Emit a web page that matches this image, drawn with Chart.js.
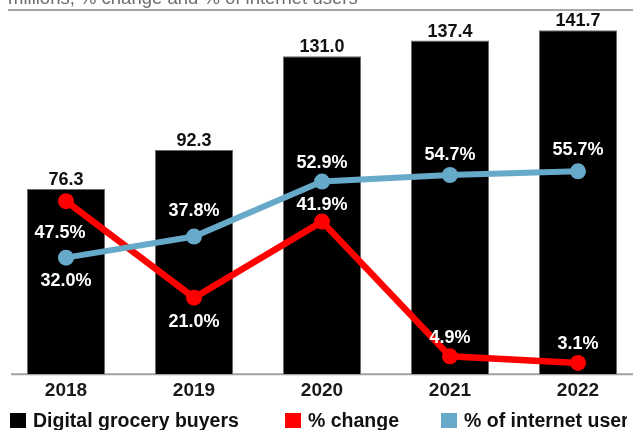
<!DOCTYPE html>
<html>
<head>
<meta charset="utf-8">
<script src="https://cdn.jsdelivr.net/npm/chart.js@4/dist/chart.umd.min.js"></script>
<style>
  html, body { margin:0; padding:0; background:#fff; width:633px; height:430px; overflow:hidden; }
  #wrap { position:relative; width:633px; height:430px; overflow:hidden; }
  #chart { position:absolute; left:-6px; top:0; }
  #subtitle { position:absolute; left:8px; top:-11px; font:18.5px "Liberation Sans", Arial, sans-serif; line-height:18px; color:#6e6e6e; white-space:nowrap; }
  #rule { position:absolute; left:8px; top:9px; width:640px; height:2px; background:#a6a6a6; }
  .lg { position:absolute; top:409px; height:22px; display:flex; align-items:center; white-space:nowrap; overflow:hidden;
        font:bold 19.5px "Liberation Sans", Arial, sans-serif; color:#111; }
  .lg i { display:inline-block; flex:none; width:16px; height:15px; margin-right:7px; }
</style>
</head>
<body>
<div id="wrap">
  <canvas id="chart" width="656" height="430"></canvas>
  <div id="subtitle">millions, % change and % of internet users</div>
  <div id="rule"></div>
  <div id="legend"></div>
</div>
<script>
// ---- data ----
const categories = ['2018', '2019', '2020', '2021', '2022'];
const buyers = [76.3, 92.3, 131.0, 137.4, 141.7];          // millions
const pctChange = [47.5, 21.0, 41.9, 4.9, 3.1];             // % change
const pctInternet = [32.0, 37.8, 52.9, 54.7, 55.7];         // % of internet users
const seriesNames = ['Digital grocery buyers', '% change', '% of internet users'];

const BLACK = '#000000', RED = '#ff0000', BLUE = '#67a9c9';
const FONT = '"Liberation Sans", Arial, sans-serif';

// label vertical offsets (label centre relative to point)
const labelOffsets = {
  1: [32, 24, -17, -18, -19],
  2: [23, -26, -19, -20, -21]
};

const labelsPlugin = {
  id: 'valueLabels',
  afterDatasetsDraw(chart) {
    const ctx = chart.ctx;
    ctx.save();
    ctx.textAlign = 'center';
    const barMeta = chart.getDatasetMeta(0);
    ctx.font = 'bold 18px ' + FONT;
    ctx.fillStyle = '#111';
    ctx.textBaseline = 'alphabetic';
    barMeta.data.forEach((el, i) => {
      ctx.fillText(buyers[i].toFixed(1), el.x, el.y - 4);
    });
    ctx.fillStyle = '#ffffff';
    ctx.textBaseline = 'middle';
    [1, 2].forEach(di => {
      const meta = chart.getDatasetMeta(di);
      const vals = chart.data.datasets[di].data;
      meta.data.forEach((el, i) => {
        const dx = (di === 1 && i === 0) ? -6 : 0;
        ctx.fillText(vals[i].toFixed(1) + '%', el.x + dx, el.y + labelOffsets[di][i]);
      });
    });
    ctx.restore();
  }
};

const baselinePlugin = {
  id: 'baseline',
  beforeDatasetsDraw(chart) {
    const ctx = chart.ctx;
    const y = chart.scales.y.getPixelForValue(0);
    ctx.save();
    ctx.strokeStyle = '#a0a0a0';
    ctx.lineWidth = 2;
    ctx.beginPath();
    ctx.moveTo(17, y);
    ctx.lineTo(chart.width, y);
    ctx.stroke();
    ctx.restore();
  }
};

new Chart(document.getElementById('chart'), {
  data: {
    labels: categories,
    datasets: [
      {
        type: 'bar', label: seriesNames[0], data: buyers, yAxisID: 'y',
        backgroundColor: BLACK, borderColor: '#6a6a6a', borderWidth: 1,
        barPercentage: 0.61, categoryPercentage: 1.0, order: 3
      },
      {
        type: 'line', label: seriesNames[1], data: pctChange, yAxisID: 'y2',
        borderColor: RED, backgroundColor: RED, borderWidth: 6.5,
        pointRadius: 8, pointBackgroundColor: RED, pointBorderWidth: 0,
        tension: 0, order: 2
      },
      {
        type: 'line', label: seriesNames[2], data: pctInternet, yAxisID: 'y2',
        borderColor: BLUE, backgroundColor: BLUE, borderWidth: 6,
        pointRadius: 8, pointBackgroundColor: BLUE, pointBorderWidth: 0,
        tension: 0, order: 1
      }
    ]
  },
  options: {
    responsive: false,
    animation: false,
    layout: { padding: { left: 2, right: 2, top: 10, bottom: 23 } },
    plugins: { legend: { display: false }, tooltip: { enabled: false } },
    scales: {
      x: {
        type: 'category', offset: true,
        grid: { display: false, drawTicks: false },
        border: { display: false },
        ticks: { color: '#1a1a1a', padding: 5, font: { family: FONT, size: 19, weight: 'bold' } },
        afterFit(scale) { scale.paddingLeft = 0; scale.paddingRight = 0; }
      },
      y: { display: false, min: 0, max: 150 },
      y2: { display: false, min: 0, max: 100, position: 'right' }
    }
  },
  plugins: [baselinePlugin, labelsPlugin]
});

// HTML legend
const legendColors = [BLACK, RED, BLUE];
const legendLeft = [10, 285, 441];
const legend = document.getElementById('legend');
seriesNames.forEach((name, i) => {
  const d = document.createElement('div');
  d.className = 'lg';
  d.style.left = legendLeft[i] + 'px';
  if (i === 2) d.style.width = '186px';
  const sw = document.createElement('i');
  sw.style.background = legendColors[i];
  d.appendChild(sw);
  d.appendChild(document.createTextNode(name));
  legend.appendChild(d);
});
</script>
</body>
</html>
